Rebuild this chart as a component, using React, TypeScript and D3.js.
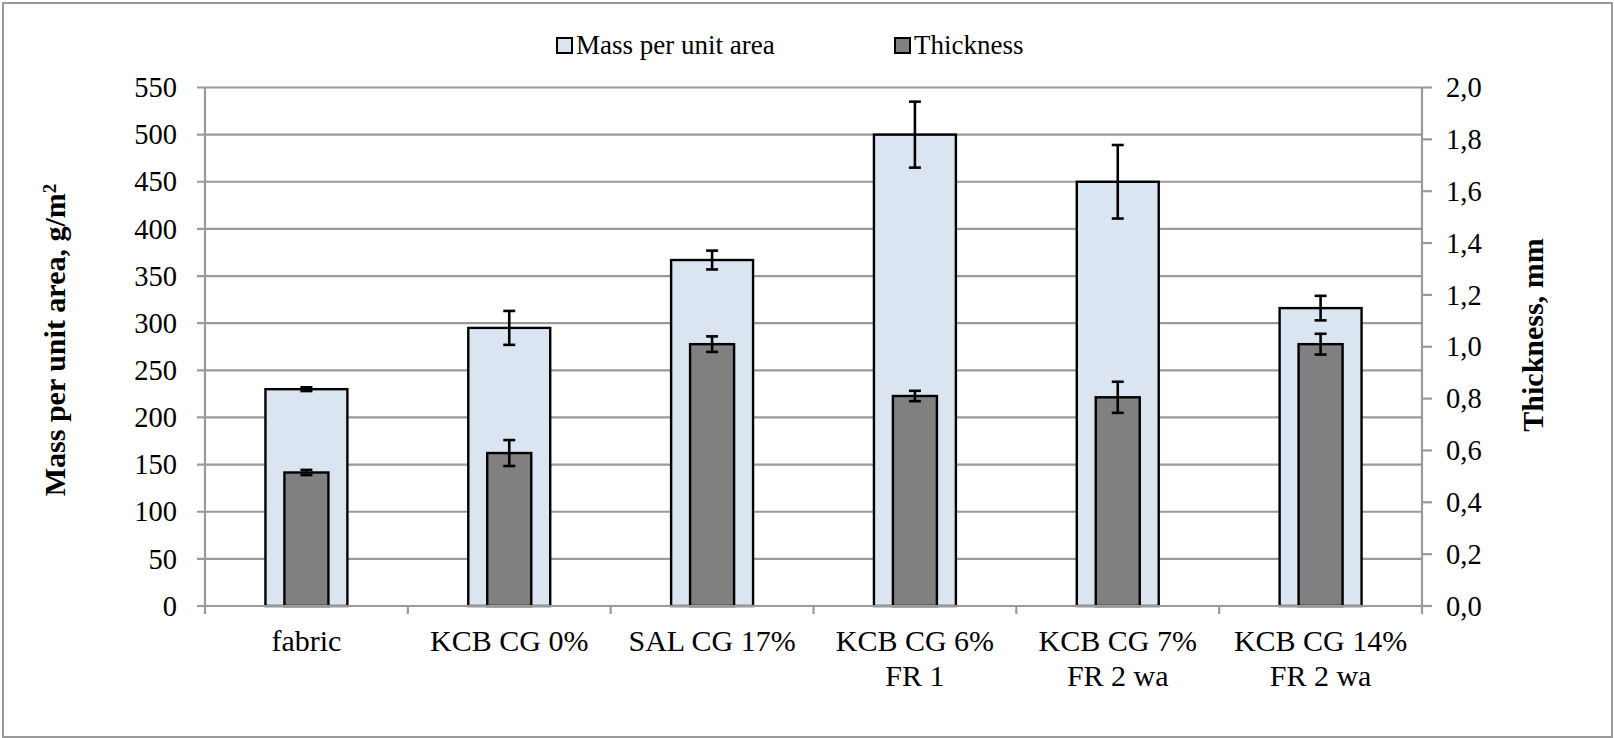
import React from "react";
import * as d3 from "d3";

const categories: string[][] = [
  ["fabric"],
  ["KCB CG 0%"],
  ["SAL CG 17%"],
  ["KCB CG 6%", "FR 1"],
  ["KCB CG 7%", "FR 2 wa"],
  ["KCB CG 14%", "FR 2 wa"],
];
const massValues = [230, 295, 367, 500, 450, 316];
const massErrors = [2, 18, 10, 35, 39, 13];
const thicknessValues = [0.515, 0.59, 1.01, 0.81, 0.805, 1.01];
const thicknessErrors = [0.01, 0.05, 0.03, 0.02, 0.06, 0.04];
const massTicks = [0, 50, 100, 150, 200, 250, 300, 350, 400, 450, 500, 550];
const thicknessTicks = [0, 0.2, 0.4, 0.6, 0.8, 1.0, 1.2, 1.4, 1.6, 1.8, 2.0];
const legendLabels = ["Mass per unit area", "Thickness"];
const leftTitle = "Mass per  unit area, g/m";
const rightTitle = "Thickness, mm";

const W = 1614;
const H = 738;
const plotLeft = 205;
const plotRight = 1422;
const plotTop = 87.5;
const plotBottom = 606;

const FONT = "'Liberation Serif', 'Times New Roman', serif";
const LIGHT = "#dbe5f1";
const DARK = "#808080";
const GRID = "#9a9a9a";

export default function App() {
  const idx = categories.map((_, i) => String(i));
  const x = d3.scaleBand<string>().domain(idx).range([plotLeft, plotRight]).paddingInner(0).paddingOuter(0);
  const yL = d3.scaleLinear().domain([0, 550]).range([plotBottom, plotTop]);
  const yR = d3.scaleLinear().domain([0, 2.0]).range([plotBottom, plotTop]);
  const bw = x.bandwidth();
  const lightW = bw * 0.404;
  const darkW = bw * 0.217;
  const capW = 12;
  const fmtR = (v: number) => d3.format(".1f")(v).replace(".", ",");

  return (
    <svg
      width={W}
      height={H}
      style={{ position: "absolute", left: 0, top: 0, display: "block", background: "#fff" }}
      fontFamily={FONT}
    >
      <rect x={3} y={3} width={W - 5} height={H - 4} fill="#fff" stroke={GRID} strokeWidth={2} />

      {massTicks.map((t) => (
        <line key={"g" + t} x1={plotLeft - 8} x2={plotRight} y1={yL(t)} y2={yL(t)} stroke={GRID} strokeWidth={2.2} />
      ))}

      <line x1={plotLeft} x2={plotLeft} y1={plotTop} y2={plotBottom} stroke={GRID} strokeWidth={2.2} />
      {massTicks.map((t) => (
        <text key={"l" + t} x={177} y={yL(t)} dy="0.34em" textAnchor="end" fontSize={28.5} fill="#000">
          {t}
        </text>
      ))}

      <line x1={plotRight} x2={plotRight} y1={plotTop} y2={plotBottom} stroke={GRID} strokeWidth={2.2} />
      {thicknessTicks.map((t) => (
        <g key={"r" + t}>
          <line x1={plotRight} x2={plotRight + 10} y1={yR(t)} y2={yR(t)} stroke={GRID} strokeWidth={2.2} />
          <text x={1446} y={yR(t)} dy="0.34em" textAnchor="start" fontSize={28.5} fill="#000">
            {fmtR(t)}
          </text>
        </g>
      ))}

      {idx.map((k) => (
        <line key={"bt" + k} x1={x(k)!} x2={x(k)!} y1={plotBottom} y2={plotBottom + 8} stroke={GRID} strokeWidth={2.2} />
      ))}
      <line x1={plotRight} x2={plotRight} y1={plotBottom} y2={plotBottom + 8} stroke={GRID} strokeWidth={2.2} />

      {idx.map((k, i) => {
        const cx = x(k)! + bw / 2;
        return (
          <g key={"b" + k}>
            <rect
              x={cx - lightW / 2}
              y={yL(massValues[i])}
              width={lightW}
              height={plotBottom - yL(massValues[i])}
              fill={LIGHT}
              stroke="#000"
              strokeWidth={2.4}
            />
            <rect
              x={cx - darkW / 2}
              y={yR(thicknessValues[i])}
              width={darkW}
              height={plotBottom - yR(thicknessValues[i])}
              fill={DARK}
              stroke="#000"
              strokeWidth={2.4}
            />
          </g>
        );
      })}
      <line x1={plotLeft} x2={plotRight} y1={plotBottom} y2={plotBottom} stroke={GRID} strokeWidth={2.2} />

      {idx.map((k, i) => {
        const cx = x(k)! + bw / 2;
        const m1 = yL(massValues[i] + massErrors[i]);
        const m2 = yL(massValues[i] - massErrors[i]);
        const t1 = yR(thicknessValues[i] + thicknessErrors[i]);
        const t2 = yR(thicknessValues[i] - thicknessErrors[i]);
        return (
          <g key={"e" + k} stroke="#000" strokeWidth={2.6}>
            <line x1={cx} x2={cx} y1={m1} y2={m2} />
            <line x1={cx - capW / 2} x2={cx + capW / 2} y1={m1} y2={m1} />
            <line x1={cx - capW / 2} x2={cx + capW / 2} y1={m2} y2={m2} />
            <line x1={cx} x2={cx} y1={t1} y2={t2} />
            <line x1={cx - capW / 2} x2={cx + capW / 2} y1={t1} y2={t1} />
            <line x1={cx - capW / 2} x2={cx + capW / 2} y1={t2} y2={t2} />
          </g>
        );
      })}

      {idx.map((k, i) => (
        <text key={"c" + k} x={x(k)! + bw / 2} y={651} textAnchor="middle" fontSize={30} fill="#000">
          {categories[i].map((line, j) => (
            <tspan key={j} x={x(k)! + bw / 2} y={651 + j * 35}>
              {line}
            </tspan>
          ))}
        </text>
      ))}

      <text
        transform={`translate(65, 340) rotate(-90)`}
        textAnchor="middle"
        fontSize={30}
        fontWeight="bold"
        fill="#000"
      >
        {leftTitle}
        <tspan dy="-0.45em" fontSize={19}>2</tspan>
      </text>
      <text
        transform={`translate(1543, 335) rotate(-90)`}
        textAnchor="middle"
        fontSize={30}
        fontWeight="bold"
        fill="#000"
      >
        {rightTitle}
      </text>

      <g>
        <rect x={557} y={38} width={15} height={15} fill={LIGHT} stroke="#000" strokeWidth={2} />
        <text x={576} y={54} fontSize={27} fill="#000">{legendLabels[0]}</text>
        <rect x={895} y={38} width={15} height={15} fill={DARK} stroke="#000" strokeWidth={2} />
        <text x={914} y={54} fontSize={27} fill="#000">{legendLabels[1]}</text>
      </g>
    </svg>
  );
}
